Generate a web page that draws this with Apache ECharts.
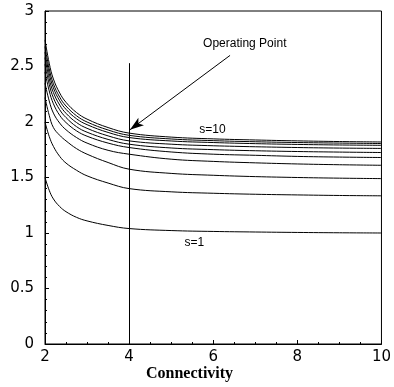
<!DOCTYPE html>
<html>
<head>
<meta charset="utf-8">
<script src="https://cdn.jsdelivr.net/npm/echarts@6/dist/echarts.min.js"></script>
<style>html,body{margin:0;padding:0;background:#fff;}#c{width:394px;height:387px;}</style>
</head>
<body>
<div id="c"></div>
<script>
const connectivity = [2, 2.1, 2.2, 2.35, 2.5, 2.75, 3, 3.5, 4, 5, 6, 7, 8, 9, 10];
const s1  = [1.50, 1.385, 1.307, 1.238, 1.192, 1.141, 1.109, 1.068, 1.04, 1.022, 1.014, 1.009, 1.005, 1.002, 1.00];
const s2  = [2.00, 1.87, 1.78, 1.69, 1.63, 1.565, 1.515, 1.45, 1.40, 1.371, 1.358, 1.349, 1.343, 1.338, 1.335];
const s3  = [2.22, 2.06, 1.95, 1.88, 1.83, 1.76, 1.71, 1.635, 1.575, 1.537, 1.52, 1.508, 1.50, 1.494, 1.49];
const s4  = [2.35, 2.19, 2.08, 1.99, 1.93, 1.86, 1.81, 1.745, 1.71, 1.665, 1.645, 1.632, 1.622, 1.615, 1.61];
const s5  = [2.45, 2.28, 2.164, 2.06, 1.995, 1.92, 1.872, 1.81, 1.77, 1.73, 1.71, 1.70, 1.69, 1.684, 1.68];
const s6  = [2.52, 2.34, 2.218, 2.11, 2.04, 1.958, 1.908, 1.843, 1.80, 1.766, 1.751, 1.741, 1.734, 1.729, 1.725];
const s7  = [2.58, 2.39, 2.265, 2.153, 2.078, 1.995, 1.943, 1.875, 1.83, 1.80, 1.786, 1.777, 1.77, 1.765, 1.762];
const s8  = [2.63, 2.437, 2.307, 2.191, 2.114, 2.029, 1.976, 1.906, 1.86, 1.829, 1.815, 1.805, 1.798, 1.793, 1.79];
const s9  = [2.68, 2.48, 2.344, 2.224, 2.144, 2.056, 2.00, 1.928, 1.88, 1.847, 1.832, 1.822, 1.815, 1.81, 1.806];
const s10 = [2.74, 2.53, 2.387, 2.261, 2.177, 2.085, 2.026, 1.95, 1.90, 1.864, 1.848, 1.838, 1.83, 1.824, 1.82];
const curves = [s1, s2, s3, s4, s5, s6, s7, s8, s9, s10];
const xTicks = [2, 4, 6, 8, 10];
const yTicks = [0, 0.5, 1, 1.5, 2, 2.5, 3];
const operatingX = 4;
const operatingLineTop = 2.53;
const arrowFrom = [6.4, 2.6];
const arrowTo = [4.02, 1.93];

const chart = echarts.init(document.getElementById('c'));
const series = curves.map((vals, k) => ({
  type: 'line',
  name: 's=' + (k + 1),
  data: connectivity.map((x, i) => [x, vals[i]]),
  showSymbol: false,
  smooth: 0.4,
  lineStyle: {color: '#000', width: 1},
  silent: true,
  z: 3
}));
series.push({
  type: 'scatter',
  data: [],
  silent: true,
  markLine: {
    silent: true,
    animation: false,
    lineStyle: {color: '#000', width: 1, type: 'solid'},
    label: {show: false},
    data: [
      [{coord: [operatingX, 0], symbol: 'none'}, {coord: [operatingX, operatingLineTop], symbol: 'none'}],
      [{coord: arrowFrom, symbol: 'none'}, {coord: arrowTo, symbol: 'arrow', symbolSize: [7, 14]}]
    ]
  },
  markPoint: {
    silent: true,
    animation: false,
    symbolSize: 0,
    label: {show: true, color: '#000', fontFamily: 'Liberation Sans, Arial, sans-serif'},
    data: [
      {coord: [6.75, 2.71], label: {formatter: 'Operating Point', fontSize: 12}},
      {coord: [5.98, 1.93], label: {formatter: 's=10', fontSize: 12}},
      {coord: [5.55, 0.91], label: {formatter: 's=1', fontSize: 12}}
    ]
  }
});

chart.setOption({
  animation: false,
  backgroundColor: '#fff',
  grid: {left: 45, right: 7, top: 11, bottom: 43, show: true, borderColor: '#000', borderWidth: 1, backgroundColor: 'transparent'},
  xAxis: {
    type: 'value', min: xTicks[0], max: xTicks[xTicks.length - 1], interval: 2,
    axisLine: {show: true, onZero: false, lineStyle: {color: '#000', width: 1}},
    axisTick: {show: true, inside: true, length: 4, lineStyle: {color: '#000'}},
    minorTick: {show: true, splitNumber: 4, length: 2, lineStyle: {color: '#000'}},
    splitLine: {show: false},
    axisLabel: {color: '#000', fontSize: 15, margin: 6, fontFamily: 'DejaVu Sans, sans-serif'}
  },
  yAxis: {
    type: 'value', min: yTicks[0], max: yTicks[yTicks.length - 1], interval: 0.5,
    axisLine: {show: true, onZero: false, lineStyle: {color: '#000', width: 1}},
    axisTick: {show: true, inside: true, length: 4, lineStyle: {color: '#000'}},
    minorTick: {show: true, splitNumber: 5, length: 2, lineStyle: {color: '#000'}},
    splitLine: {show: false},
    axisLabel: {color: '#000', fontSize: 15, margin: 11, fontFamily: 'DejaVu Sans, sans-serif'}
  },
  graphic: [{
    type: 'text', left: 146, top: 366,
    style: {text: 'Connectivity', fill: '#000', font: 'bold 16px "Liberation Serif", "Times New Roman", serif'}
  }],
  series: series
});
</script>
</body>
</html>
